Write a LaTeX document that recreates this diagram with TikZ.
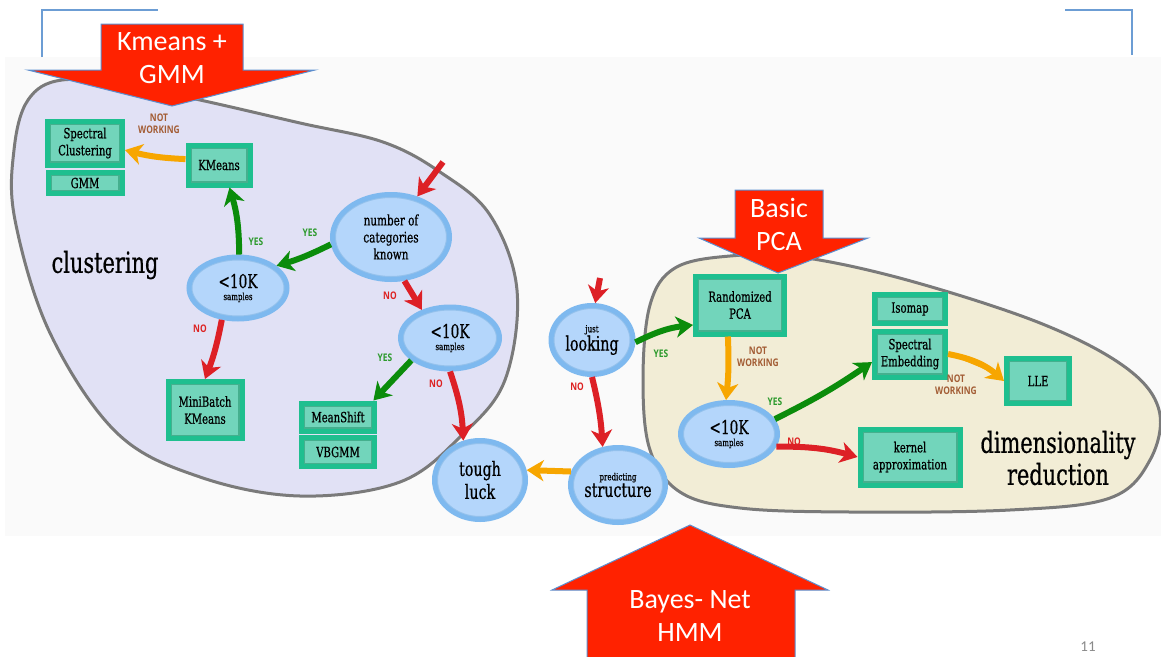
\documentclass[tikz,border=0pt]{standalone}
\usepackage{fontspec}
\usetikzlibrary{shapes.geometric,arrows.meta,calc}
\newfontfamily\nf[FakeStretch=0.72, FakeBold=0.6]{DejaVu Serif}
\newfontfamily\lf[FakeStretch=0.8]{Open Sans}
\newfontfamily\cf{Carlito}
\definecolor{lav}{HTML}{E1E1F5}
\definecolor{cream}{HTML}{F2EDD6}
\definecolor{blobline}{HTML}{7A7A7A}
\definecolor{ellfill}{HTML}{B4D6FB}
\definecolor{ellborder}{HTML}{7EB9EF}
\definecolor{ellinner}{HTML}{95C2EC}
\definecolor{boxborder}{HTML}{1FBF8F}
\definecolor{boxfill}{HTML}{72D5BB}
\definecolor{boxinner}{HTML}{45B08E}
\definecolor{redarr}{HTML}{DD2026}
\definecolor{greenarr}{HTML}{0B8C0B}
\definecolor{orangearr}{HTML}{F7A600}
\definecolor{brownlbl}{HTML}{A35D35}
\definecolor{yeslbl}{HTML}{2C9A2C}
\definecolor{nolbl}{HTML}{DD2222}
\definecolor{bigred}{HTML}{FF2200}
\definecolor{bigout}{HTML}{5B8FD0}
\definecolor{brack}{HTML}{6C9DD4}
\definecolor{bgband}{HTML}{FAFAFA}
\definecolor{pggray}{HTML}{8A8A8A}
\newcommand\bxf{\nf\fontsize{14}{17}\selectfont}
\newcommand\bigk{\nf\fontsize{19}{19}\selectfont}
\newcommand\smallf{\nf\fontsize{9.8}{11}\selectfont}
\newcommand\medf{\nf\fontsize{19.8}{23}\selectfont}
\begin{document}
\begin{tikzpicture}[x=1pt,y=-1pt,
  blob/.style={line width=3pt, draw=blobline},
  ell/.style={ellipse, draw=ellborder, fill=ellfill, line width=5pt, inner sep=0pt, align=center,
    path picture={\draw[ellinner, line width=2pt] let \p1=($(path picture bounding box.north east)-(path picture bounding box.center)$) in (path picture bounding box.center) ellipse [x radius=\x1-2.5pt, y radius=\y1-2.5pt];}},
  bx/.style={rectangle, draw=boxborder, fill=boxfill, line width=5pt, inner sep=0pt, align=center, font=\bxf,
    path picture={\draw[boxinner, line width=1.5pt] ([shift={(3pt,-3pt)}]path picture bounding box.north west) rectangle ([shift={(-3pt,3pt)}]path picture bounding box.south east);}},
  arr/.style={line width=6pt, -{Stealth[length=17pt, width=21pt, inset=5pt]}},
  rarr/.style={arr, draw=redarr, fill=redarr},
  garr/.style={arr, draw=greenarr, fill=greenarr},
  oarr/.style={arr, draw=orangearr, fill=orangearr},
  lbl/.style={font=\lf\bfseries\fontsize{10.5}{12}\selectfont, align=center, inner sep=0pt},
  yes/.style={lbl, text=yeslbl},
  no/.style={lbl, text=nolbl},
  nw/.style={lbl, text=brownlbl},
  bigarrow/.style={fill=bigred, draw=bigout, line width=1pt},
  bigtxt/.style={font=\cf\fontsize{28}{31}\selectfont, text=white, inner sep=0pt},
  blobtxt/.style={font=\nf\fontsize{29}{32}\selectfont, align=center, inner sep=0pt}
]
\useasboundingbox (0,0) rectangle (1161,656);
\fill[white] (0,0) rectangle (1161,656);
\fill[bgband] (5,57) rectangle (1161,536);

% brackets
\draw[brack, line width=2pt] (42,57) -- (42,10) -- (158,10);
\draw[brack, line width=2pt] (1065,10) -- (1132,10) -- (1132,55);

% blobs
\draw[blob, fill=lav] plot[smooth cycle, tension=0.6] coordinates {
 (28,100) (62,80) (130,86) (200,100) (300,123) (383,142) (440,172) (490,215) (517,290)
 (505,380) (462,435) (400,482) (300,496) (200,477) (117,433) (50,333) (15,220) (14,150)};
\draw[blob, fill=cream] plot[smooth cycle, tension=0.6] coordinates {
 (643,380) (650,305) (675,268) (730,256) (800,257) (907,280) (1040,323) (1125,367)
 (1159,410) (1150,460) (1110,498) (1010,510) (850,512) (740,508) (680,492) (650,450)};

\node[blobtxt] (clu) at (105,265) {clustering};
\node[blobtxt] (dimr) at (1058,458) {dimensionality\\reduction};

% big red arrows
\fill[bigarrow] (101,24) -- (243,24) -- (243,70) -- (315,70) -- (172,106) -- (28,70) -- (101,70) -- cycle;
\node[bigtxt] (t1a) at (172,42) {Kmeans +};
\node[bigtxt] (t1b) at (172,75) {GMM};
\fill[bigarrow] (735,190) -- (823,190) -- (823,238) -- (868,238) -- (778,273) -- (699,238) -- (735,238) -- cycle;
\node[bigtxt] (t2a) at (779,208) {Basic};
\node[bigtxt] (t2b) at (779,242) {PCA};
\fill[bigarrow] (690,525) -- (828,590) -- (795,590) -- (795,660) -- (587,660) -- (587,590) -- (552,590) -- cycle;
\node[bigtxt] (t3a) at (690,602) {Bayes- Net};
\node[bigtxt] (t3b) at (690,633) {HMM};

\node[font=\cf\fontsize{15}{15}\selectfont, text=pggray, inner sep=0pt] (pg) at (1088,647) {11};

% ellipse nodes
\node[ell, minimum width=117pt, minimum height=85pt, font=\nf\fontsize{14.5}{17}\selectfont] (num) at (391,237) {number of\\categories\\known};
\node[ell, minimum width=98pt, minimum height=62pt] (l10) at (238,288) {{\bigk <10K}\\{\smallf samples}};
\node[ell, minimum width=99pt, minimum height=62pt] (r10) at (450,338) {{\bigk <10K}\\{\smallf samples}};
\node[ell, minimum width=91pt, minimum height=79pt, font=\medf] (tough) at (480,480) {tough\\luck};
\node[ell, minimum width=82pt, minimum height=69pt] (lk) at (592,340) {{\smallf just}\\{\medf looking}};
\node[ell, minimum width=88pt, minimum height=75pt] (pr) at (618,485) {{\smallf predicting}\\{\medf structure}};
\node[ell, minimum width=97pt, minimum height=63pt] (d10) at (729,434) {{\bigk <10K}\\{\smallf samples}};

% box nodes
\node[bx, minimum width=75pt, minimum height=44pt] (sc) at (85,143) {Spectral\\Clustering};
\node[bx, minimum width=74pt, minimum height=21pt] (gmm) at (85,183) {GMM};
\node[bx, minimum width=62pt, minimum height=40pt] (km) at (219,165) {KMeans};
\node[bx, minimum width=74pt, minimum height=57pt] (mb) at (205,410) {MiniBatch\\KMeans};
\node[bx, minimum width=73pt, minimum height=28pt] (ms) at (338,417) {MeanShift};
\node[bx, minimum width=73pt, minimum height=29pt] (vb) at (338,452) {VBGMM};
\node[bx, minimum width=89pt, minimum height=58pt] (rp) at (740,305) {Randomized\\PCA};
\node[bx, minimum width=71pt, minimum height=29pt] (iso) at (910,309) {Isomap};
\node[bx, minimum width=71pt, minimum height=46pt] (se) at (910,354) {Spectral\\Embedding};
\node[bx, minimum width=63pt, minimum height=45pt] (lle) at (1038,381) {LLE};
\node[bx, minimum width=100pt, minimum height=56pt] (ka) at (910,457) {kernel\\approximation};

% connectors
\coordinate (in1) at (443,162);
\coordinate (in2) at (600,278);
\draw[rarr] (in1) -- (num.57);
\draw[garr] (num.187) to[bend left=5] (l10.30);
\draw[garr] (l10.88) to[bend right=8] (km.-65);
\draw[oarr] (km.170) to[bend left=6] (sc.-10);
\draw[rarr] (l10.243) to[bend left=5] (mb.north);
\draw[rarr] (num.-73) -- (r10.135);
\draw[garr] (r10.210) -- (ms.25);
\draw[rarr] (r10.south) to[bend left=8] (tough.113);
\draw[rarr] (in2) -- (lk.85);
\draw[rarr] (lk.south) to[bend left=5] (pr.112);
\draw[oarr] (pr.164) -- (tough.12);
\draw[garr] (lk.-3) to[bend left=10] (rp.203);
\draw[oarr] (rp.249) to[bend left=4] (d10.95);
\draw[garr] (d10.18) to[bend right=4] (se.192);
\draw[oarr] (se.east) to[bend left=15] (lle.west);
\draw[rarr] (d10.-15) to[bend left=8] (ka.west);

% labels
\node[nw] (nw1) at (159,124) {NOT\\WORKING};
\node[yes] (y1) at (310,233) {YES};
\node[yes] (y2) at (256,242) {YES};
\node[no] (n1) at (200,329) {NO};
\node[no] (n2) at (390,296) {NO};
\node[yes] (y3) at (385,358) {YES};
\node[no] (n3) at (436,384) {NO};
\node[no] (n4) at (577,387) {NO};
\node[yes] (y4) at (661,354) {YES};
\node[nw] (nw2) at (758,357) {NOT\\WORKING};
\node[yes] (y5) at (775,402) {YES};
\node[nw] (nw3) at (956,385) {NOT\\WORKING};
\node[no] (n5) at (794,442) {NO};
\end{tikzpicture}
\end{document}
